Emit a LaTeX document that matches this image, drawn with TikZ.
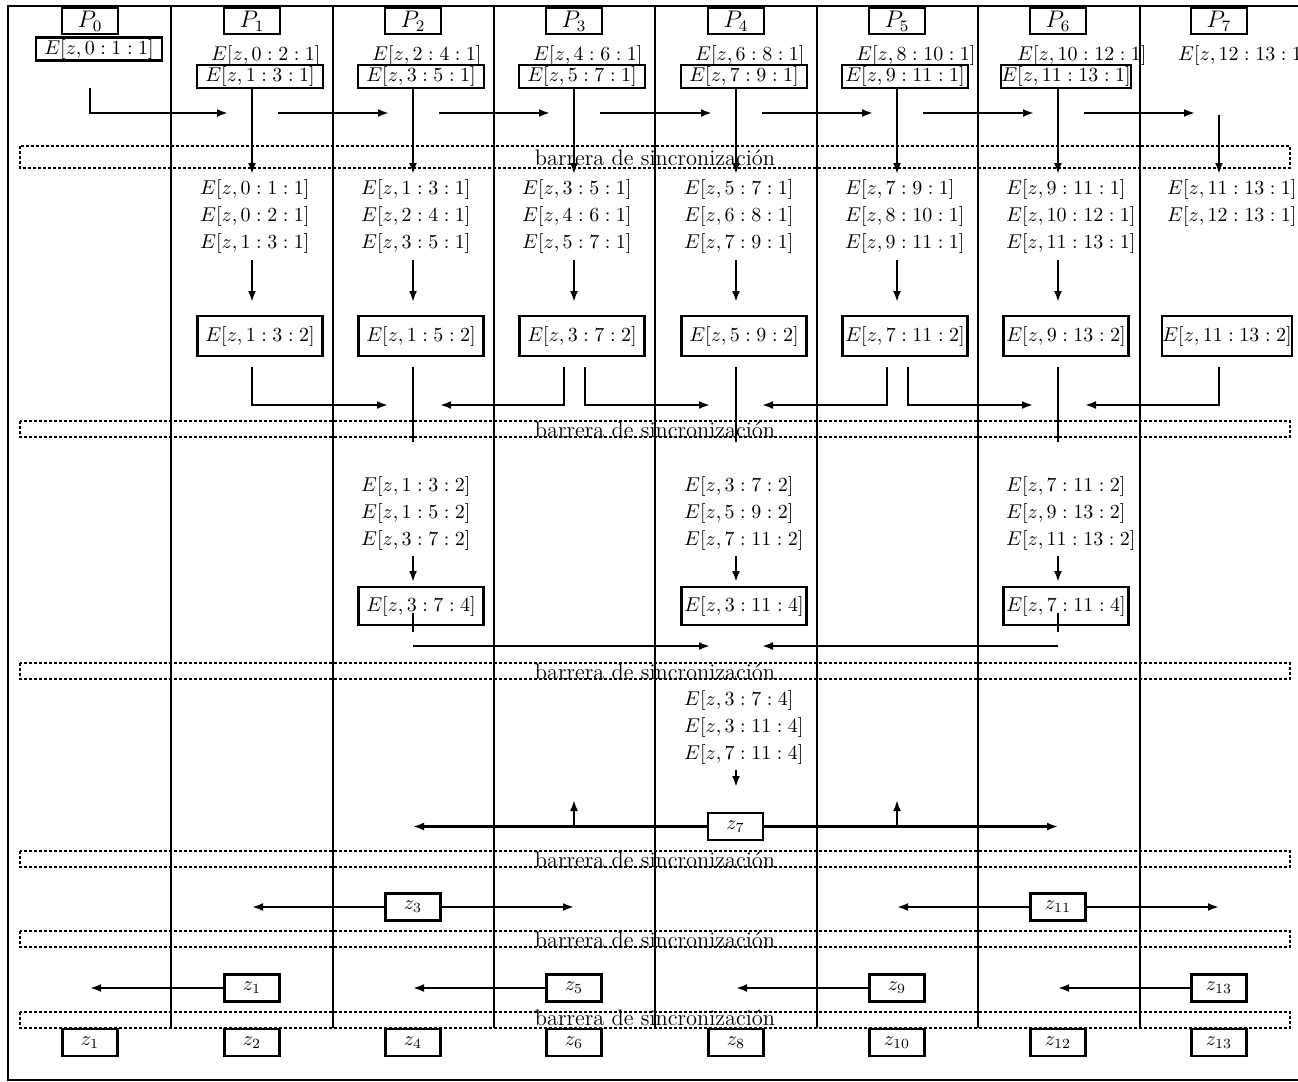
\documentclass[tikz,border=0pt]{standalone}
\usetikzlibrary{arrows.meta}
\begin{document}
\begin{tikzpicture}[x=0.5pt,y=-0.5pt,
  line width=1.15pt,
  arr/.style={-{Latex[length=5.5pt,width=4pt]}},
  pbox/.style={draw, minimum width=28pt, minimum height=13pt, inner sep=0pt, font=\large},
  etop/.style={draw, minimum width=63pt, minimum height=11.5pt, inner sep=0pt},
  emid/.style={draw, minimum width=62.5pt, minimum height=20pt, inner sep=0pt},
  elow/.style={draw, minimum width=62.5pt, minimum height=19pt, inner sep=0pt},
  zbox/.style={draw, minimum width=27.5pt, minimum height=13.5pt, inner sep=0pt},
  lab/.style={anchor=west, inner sep=0pt},
  barrier/.style={draw, dash pattern=on 1.6pt off 0.9pt, line width=1pt},
  btext/.style={anchor=base, inner sep=0pt, font=\fontsize{11.2}{13}\selectfont}
]
\clip (0,0) rectangle (1298,1082);
% frame
\draw (1330,6) -- (8,6) -- (8,1080) -- (1330,1080);
% column dividers
\foreach \x in {171,333,494,655,817,978,1140} \draw (\x,6) -- (\x,1028);
% barriers
\foreach \t/\b [count=\k] in {146/168,421/437,663/679,851/867,931/947,1012/1028}
  \draw[barrier] (20,\t) rectangle (1290,\b);
\node[btext] (b1) at (655,165) {barrera de sincronización};
\node[btext] (b2) at (655,437) {barrera de sincronización};
\node[btext] (b3) at (655,679) {barrera de sincronización};
\node[btext] (b4) at (655,867) {barrera de sincronización};
\node[btext] (b5) at (655,947) {barrera de sincronización};
\node[btext] (b6) at (655,1025.5) {barrera de sincronización};
% process headers
\foreach \c [count=\i from 0] in {90,252,413,574,736,897,1058,1219}
  \node[pbox] (P\i) at (\c,21) {$P_{\i}$};
% P0 box
\node[etop] (e0) at (99,49) {$E[z,0:1:1]$};
% small top labels
\foreach \c/\a/\b [count=\i] in {252/0/2,413/2/4,574/4/6,736/6/8,897/8/10,1058/10/12,1219/12/13}
  \node[lab] (s\i) at (\c-42,55) {$E[z,\a:\b:1]$};
% top boxed labels
\foreach \c/\a/\b [count=\i] in {252/1/3,413/3/5,574/5/7,736/7/9,897/9/11,1058/11/13}
  \node[etop] (T\i) at (\c+8,76.5) {$E[z,\a:\b:1]$};
% row 1 horizontal arrows
\coordinate (a0) at (90,88);
\coordinate (he0) at (228,113);
\draw[arr] (a0) |- (he0);
\foreach \c/\n [count=\i] in {252/413,413/574,574/736,736/897,897/1058,1058/1219} {
  \coordinate (hs\i) at (\c+26,113);
  \coordinate (he\i) at (\n-24,113);
  \draw[arr] (hs\i) -- (he\i);
}
% vertical arrows through barrier 1
\foreach \c [count=\i] in {252,413,574,736,897,1058} {
  \coordinate (d\i) at (\c,174);
  \draw[arr] (T\i.south -| P\i) -- (d\i);
}
\coordinate (v7) at (1219,115);
\coordinate (d7) at (1219,174);
\draw[arr] (v7) -- (d7);
% label stacks after barrier 1
\foreach \c/\la/\lb/\lc [count=\i] in {
  252/{0:1:1}/{0:2:1}/{1:3:1},
  413/{1:3:1}/{2:4:1}/{3:5:1},
  574/{3:5:1}/{4:6:1}/{5:7:1},
  736/{5:7:1}/{6:8:1}/{7:9:1},
  897/{7:9:1}/{8:10:1}/{9:11:1},
  1058/{9:11:1}/{10:12:1}/{11:13:1}} {
  \node[lab] (ra\i) at (\c-53,189) {$E[z,\la]$};
  \node[lab] (rb\i) at (\c-53,216) {$E[z,\lb]$};
  \node[lab] (rc\i) at (\c-53,243) {$E[z,\lc]$};
  \coordinate (q\i) at (\c,260);
  \coordinate (qq\i) at (\c,302);
  \draw[arr] (q\i) -- (qq\i);
}
\node[lab] (ra7) at (1166,189) {$E[z,11:13:1]$};
\node[lab] (rb7) at (1166,216) {$E[z,12:13:1]$};
% second-level boxes
\foreach \c/\a/\b [count=\i] in {252/1/3,413/1/5,574/3/7,736/5/9,897/7/11,1058/9/13,1219/11/13}
  \node[emid] (M\i) at (\c+8,336) {$E[z,\a:\b:2]$};
% row 2 connectors
\coordinate (m1s) at (252,367);  \coordinate (m1e) at (388,405);
\draw[arr] (m1s) |- (m1e);
\coordinate (m2s) at (413,367);  \coordinate (m2e) at (413,442);
\draw (m2s) -- (m2e);
\coordinate (m3a) at (564,367);  \coordinate (m3ae) at (440,405);
\draw[arr] (m3a) |- (m3ae);
\coordinate (m3b) at (585,367);  \coordinate (m3be) at (710,405);
\draw[arr] (m3b) |- (m3be);
\coordinate (m4s) at (736,367);  \coordinate (m4e) at (736,442);
\draw (m4s) -- (m4e);
\coordinate (m5a) at (887,367);  \coordinate (m5ae) at (762,405);
\draw[arr] (m5a) |- (m5ae);
\coordinate (m5b) at (908,367);  \coordinate (m5be) at (1033,405);
\draw[arr] (m5b) |- (m5be);
\coordinate (m6s) at (1058,367); \coordinate (m6e) at (1058,442);
\draw (m6s) -- (m6e);
\coordinate (m7s) at (1219,367); \coordinate (m7e) at (1085,405);
\draw[arr] (m7s) |- (m7e);
% third-level stacks
\foreach \c/\la/\lb/\lc/\bx [count=\i] in {
  413/{1:3:2}/{1:5:2}/{3:7:2}/{3:7:4},
  736/{3:7:2}/{5:9:2}/{7:11:2}/{3:11:4},
  1058/{7:11:2}/{9:13:2}/{11:13:2}/{7:11:4}} {
  \node[lab] (ta\i) at (\c-53,486) {$E[z,\la]$};
  \node[lab] (tb\i) at (\c-53,513) {$E[z,\lb]$};
  \node[lab] (tc\i) at (\c-53,540) {$E[z,\lc]$};
  \coordinate (u\i) at (\c,556);
  \coordinate (uu\i) at (\c,582);
  \draw[arr] (u\i) -- (uu\i);
  \node[elow] (L\i) at (\c+8,606) {$E[z,\bx]$};
}
\coordinate (l1a) at (413,613); \coordinate (l1b) at (413,632);
\draw (l1a) -- (l1b);
\coordinate (l3a) at (1058,613); \coordinate (l3b) at (1058,632);
\draw (l3a) -- (l3b);
\coordinate (h1s) at (413,646); \coordinate (h1e) at (710,646);
\draw[arr] (h1s) -- (h1e);
\coordinate (h3s) at (1058,646); \coordinate (h3e) at (762,646);
\draw[arr] (h3s) -- (h3e);
% fourth-level stack
\node[lab] (fa) at (683,700) {$E[z,3:7:4]$};
\node[lab] (fb) at (683,727) {$E[z,3:11:4]$};
\node[lab] (fc) at (683,754) {$E[z,7:11:4]$};
\coordinate (f1) at (736,770); \coordinate (f2) at (736,787);
\draw[arr] (f1) -- (f2);
% z7 broadcast
\node[zbox] (z7) at (735.5,826.5) {$z_7$};
\coordinate (z7l) at (413,826.5); \coordinate (z7r) at (1058,826.5);
\draw[arr] (z7.west) -- (z7l);
\draw[arr] (z7.east) -- (z7r);
\coordinate (up1a) at (574,826.5); \coordinate (up1b) at (574,800);
\draw[arr] (up1a) -- (up1b);
\coordinate (up2a) at (897,826.5); \coordinate (up2b) at (897,800);
\draw[arr] (up2a) -- (up2b);
% z3, z11
\node[zbox] (z3) at (413,907) {$z_3$};
\coordinate (z3l) at (252,907); \coordinate (z3r) at (574,907);
\draw[arr] (z3.west) -- (z3l);
\draw[arr] (z3.east) -- (z3r);
\node[zbox] (z11) at (1058,907) {$z_{11}$};
\coordinate (z11l) at (897,907); \coordinate (z11r) at (1219,907);
\draw[arr] (z11.west) -- (z11l);
\draw[arr] (z11.east) -- (z11r);
% z1, z5, z9, z13
\foreach \c/\n/\t [count=\i] in {252/90/1,574/413/5,897/736/9,1219/1058/13} {
  \node[zbox] (y\i) at (\c,988) {$z_{\t}$};
  \coordinate (ye\i) at (\n,988);
  \draw[arr] (y\i.west) -- (ye\i);
}
% final results
\foreach \c/\t [count=\i] in {90/1,252/2,413/4,574/6,736/8,897/10,1058/12,1219/13}
  \node[zbox] (r\i) at (\c,1042.5) {$z_{\t}$};
\end{tikzpicture}
\end{document}
